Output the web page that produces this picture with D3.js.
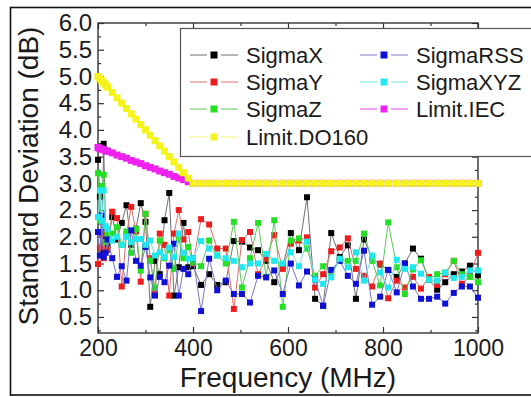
<!DOCTYPE html>
<html>
<head>
<meta charset="utf-8">
<script src="https://cdn.jsdelivr.net/npm/d3@7"></script>
<style>
  html, body { margin: 0; padding: 0; background: #fff; }
  svg { display: block; font-family: "Liberation Sans", Arial, sans-serif; }
</style>
</head>
<body>
<svg id="chart" width="531" height="397"></svg>
<script>
// Measurement frequencies (MHz)
const frequencies = [
  200, 204, 208, 212, 216, 220,
  230, 240, 250, 260, 270, 280, 290, 300, 310, 320, 330, 340, 350, 360, 370, 380, 390,
  400, 417, 434, 451, 469, 486, 503, 520, 537, 554, 571, 589, 606, 623, 640, 657, 674,
  691, 709, 726, 743, 760, 777, 794, 811, 829, 846, 863, 880, 897, 914, 931, 949, 966, 983, 1000
];

// Standard deviation of the field (dB)
const sigmaX = [
  3.44, 2.75, 1.75, 3.74, 2.00, 1.85,
  2.37, 1.95, 2.26, 2.59, 1.85, 2.15, 2.63, 2.28, 0.69, 1.55, 1.30, 2.31, 2.82, 0.90, 1.43, 2.26, 1.43,
  1.45, 1.10, 1.30, 1.10, 1.15, 1.92, 1.91, 1.80, 1.75, 1.55, 1.15, 1.45, 2.07, 1.75, 2.74, 0.84, 0.71,
  2.07, 1.62, 1.84, 0.84, 1.95, 1.60, 1.48, 1.38, 1.25, 1.50, 1.78, 1.59, 1.20, 1.01, 1.15, 1.30, 1.35, 1.46, 1.28
];
const sigmaY = [
  1.49, 1.80, 2.05, 1.60, 2.10, 1.75,
  2.47, 2.35, 1.07, 2.05, 2.56, 2.10, 1.16, 2.43, 1.60, 0.94, 2.06, 1.85, 0.90, 2.06, 2.50, 1.95, 2.09,
  1.50, 2.33, 2.23, 1.78, 1.78, 0.65, 1.94, 2.09, 1.30, 1.59, 2.03, 1.40, 1.87, 1.93, 1.99, 1.05, 1.30,
  1.73, 1.80, 1.97, 1.40, 1.27, 1.07, 1.50, 0.85, 1.18, 1.05, 1.25, 1.03, 1.25, 1.10, 1.30, 1.55, 1.12, 1.27, 1.70
];
const sigmaZ = [
  3.19, 2.30, 2.95, 3.16, 1.90, 2.05,
  2.06, 2.18, 1.85, 2.10, 1.70, 2.15, 1.37, 2.43, 1.55, 1.05, 1.93, 1.60, 1.75, 1.40, 1.96, 1.60, 1.81,
  1.52, 1.45, 1.93, 1.65, 1.50, 2.28, 1.05, 1.60, 2.26, 1.25, 2.31, 0.69, 1.93, 1.97, 1.78, 1.27, 1.45,
  1.33, 1.56, 1.55, 1.55, 2.06, 1.55, 1.09, 2.27, 1.43, 0.93, 1.39, 1.56, 1.20, 1.30, 1.33, 1.55, 1.30, 1.25, 1.15
];
const sigmaRSS = [
  2.09, 1.65, 2.40, 1.62, 1.70, 1.95,
  1.60, 1.25, 1.45, 1.18, 2.12, 1.55, 1.46, 1.81, 1.24, 0.90, 1.25, 1.15, 1.46, 1.87, 0.90, 1.40, 1.30,
  1.60, 0.61, 1.59, 1.00, 1.18, 0.93, 0.93, 0.77, 1.27, 1.24, 1.37, 0.93, 1.50, 1.09, 1.35, 1.20, 0.71,
  1.38, 1.55, 1.27, 1.12, 1.74, 0.73, 0.88, 1.38, 0.96, 1.50, 1.07, 0.84, 0.84, 0.88, 0.75, 0.95, 1.07, 1.07, 0.86
];
const sigmaXYZ = [
  2.37, 2.87, 2.30, 2.87, 2.20, 2.15,
  1.93, 2.00, 1.85, 2.00, 1.90, 1.96, 1.96, 1.85, 1.93, 1.65, 1.71, 1.62, 1.80, 1.62, 2.06, 1.70, 1.59,
  1.60, 1.92, 1.78, 1.65, 1.60, 1.55, 1.43, 1.50, 1.50, 1.68, 1.55, 1.50, 1.71, 1.45, 1.91, 1.20, 1.12,
  1.24, 1.59, 1.43, 1.71, 1.18, 1.65, 1.33, 1.05, 1.57, 1.40, 1.43, 1.31, 1.20, 1.18, 1.33, 1.23, 1.25, 1.37, 1.37
];
// Acceptance limits (dB)
const limitIEC = [
  3.67, 3.65, 3.64, 3.63, 3.61, 3.60,
  3.57, 3.53, 3.50, 3.47, 3.43, 3.40, 3.37, 3.33, 3.30, 3.27, 3.23, 3.20, 3.17, 3.13, 3.10, 3.07, 3.03,
  3.00, 3.00, 3.00, 3.00, 3.00, 3.00, 3.00, 3.00, 3.00, 3.00, 3.00, 3.00, 3.00, 3.00, 3.00, 3.00, 3.00,
  3.00, 3.00, 3.00, 3.00, 3.00, 3.00, 3.00, 3.00, 3.00, 3.00, 3.00, 3.00, 3.00, 3.00, 3.00, 3.00, 3.00, 3.00, 3.00
];
const limitDO160 = [
  5.00, 4.96, 4.92, 4.88, 4.84, 4.80,
  4.70, 4.60, 4.50, 4.40, 4.30, 4.20, 4.10, 4.00, 3.90, 3.80, 3.70, 3.60, 3.50, 3.40, 3.30, 3.20, 3.10,
  3.00, 3.00, 3.00, 3.00, 3.00, 3.00, 3.00, 3.00, 3.00, 3.00, 3.00, 3.00, 3.00, 3.00, 3.00, 3.00, 3.00,
  3.00, 3.00, 3.00, 3.00, 3.00, 3.00, 3.00, 3.00, 3.00, 3.00, 3.00, 3.00, 3.00, 3.00, 3.00, 3.00, 3.00, 3.00, 3.00
];

const seriesNames = ["SigmaX", "SigmaY", "SigmaZ", "SigmaRSS", "SigmaXYZ", "Limit.IEC", "Limit.DO160"];
const seriesValues = [sigmaX, sigmaY, sigmaZ, sigmaRSS, sigmaXYZ, limitIEC, limitDO160];

const xTickValues = [200, 400, 600, 800, 1000];
const xMinorTicks = [300, 500, 700, 900];
const yTickValues = [0.5, 1.0, 1.5, 2.0, 2.5, 3.0, 3.5, 4.0, 4.5, 5.0, 5.5, 6.0];
const yMinorTicks = [0.25, 0.75, 1.25, 1.75, 2.25, 2.75, 3.25, 3.75, 4.25, 4.75, 5.25, 5.75];

const xTitle = "Frequency (MHz)";
const yTitle = "Standard Deviation (dB)";

// Visual styles per series: marker fill, connecting line colour, marker size, line width
const styles = [
  { marker: "#000000", line: "#707070", size: 6, width: 1 },
  { marker: "#ee1c1c", line: "#e07070", size: 6, width: 1 },
  { marker: "#22e022", line: "#5cc85c", size: 6, width: 1 },
  { marker: "#1010d8", line: "#7878c8", size: 6, width: 1 },
  { marker: "#20e8f0", line: "#70e0e8", size: 6, width: 1 },
  { marker: "#ee22ee", line: "#e83ee8", size: 7, width: 4 },
  { marker: "#f4f41c", line: "#f4f470", size: 7, width: 3.5 }
];

const svg = d3.select("#chart");
const plot = { left: 98, right: 478, top: 23, bottom: 333 };

const x = d3.scaleLinear().domain([200, 1000]).range([plot.left, plot.right]);
const y = d3.scaleLinear().domain([0.2, 6.0]).range([plot.bottom, plot.top]);

// Outer frame around the figure
svg.append("rect")
  .attr("x", 10.5).attr("y", 7.5)
  .attr("width", 530).attr("height", 387.5)
  .attr("fill", "none").attr("stroke", "#111").attr("stroke-width", 1.6);

// Axes with inward ticks on all four sides
function styleAxis(g) {
  g.select(".domain").remove();
  g.selectAll(".tick line").attr("stroke", "#333").attr("stroke-width", 1.2);
  g.selectAll(".tick text").attr("fill", "#1a1a1a").attr("font-size", 23);
}

const fmtY = d3.format(".1f");

svg.append("g").attr("transform", `translate(${plot.left},0)`)
  .call(d3.axisLeft(y).tickValues(yTickValues).tickSize(-6).tickPadding(6).tickFormat(fmtY))
  .call(styleAxis)
  .call(g => g.selectAll(".tick text").attr("font-size", 24));
svg.append("g").attr("transform", `translate(${plot.left},0)`)
  .call(d3.axisLeft(y).tickValues(yMinorTicks).tickSize(-3).tickFormat(""))
  .call(styleAxis);
svg.append("g").attr("transform", `translate(${plot.right},0)`)
  .call(d3.axisRight(y).tickValues(yTickValues).tickSize(-6).tickFormat(""))
  .call(styleAxis);
svg.append("g").attr("transform", `translate(${plot.right},0)`)
  .call(d3.axisRight(y).tickValues(yMinorTicks).tickSize(-3).tickFormat(""))
  .call(styleAxis);

svg.append("g").attr("transform", `translate(0,${plot.bottom})`)
  .call(d3.axisBottom(x).tickValues(xTickValues).tickSize(-6).tickPadding(7).tickFormat(d3.format("d")))
  .call(styleAxis)
  .call(g => g.selectAll(".tick text").attr("dy", "0.71em"));
svg.append("g").attr("transform", `translate(0,${plot.bottom})`)
  .call(d3.axisBottom(x).tickValues(xMinorTicks).tickSize(-3).tickFormat(""))
  .call(styleAxis);
svg.append("g").attr("transform", `translate(0,${plot.top})`)
  .call(d3.axisTop(x).tickValues(xTickValues).tickSize(-6).tickFormat(""))
  .call(styleAxis);
svg.append("g").attr("transform", `translate(0,${plot.top})`)
  .call(d3.axisTop(x).tickValues(xMinorTicks).tickSize(-3).tickFormat(""))
  .call(styleAxis);

// Plot frame
svg.append("rect")
  .attr("x", plot.left).attr("y", plot.top)
  .attr("width", plot.right - plot.left).attr("height", plot.bottom - plot.top)
  .attr("fill", "none").attr("stroke", "#333").attr("stroke-width", 1.4);

// Series: thin connecting lines, square markers
const line = d3.line().x(d => x(d.f)).y(d => y(d.v));
const series = seriesValues.map((vals, i) => ({
  name: seriesNames[i],
  style: styles[i],
  points: frequencies.map((f, j) => ({ f, v: vals[j] }))
}));

const seriesG = svg.append("g");
series.forEach(s => {
  const g = seriesG.append("g");
  g.append("path")
    .attr("d", line(s.points))
    .attr("fill", "none")
    .attr("stroke", s.style.line)
    .attr("stroke-width", s.style.width)
    .attr("stroke-linejoin", "round");
  g.selectAll("rect").data(s.points).join("rect")
    .attr("x", d => x(d.f) - s.style.size / 2)
    .attr("y", d => y(d.v) - s.style.size / 2)
    .attr("width", s.style.size)
    .attr("height", s.style.size)
    .attr("fill", s.style.marker);
});

// Axis titles
svg.append("text")
  .attr("x", (plot.left + plot.right) / 2)
  .attr("y", 387)
  .attr("text-anchor", "middle")
  .attr("font-size", 28)
  .attr("fill", "#1a1a1a")
  .text(xTitle);

svg.append("text")
  .attr("transform", `translate(38,${(plot.top + plot.bottom) / 2 - 2}) rotate(-90)`)
  .attr("text-anchor", "middle")
  .attr("font-size", 28)
  .attr("fill", "#1a1a1a")
  .text(yTitle);

// Legend
const legend = svg.append("g");
legend.append("rect")
  .attr("x", 180.5).attr("y", 28.5)
  .attr("width", 370).attr("height", 128)
  .attr("fill", "#fff").attr("stroke", "#555").attr("stroke-width", 1.2);

const legendCols = [190, 360];
const legendRows = [55, 82, 109, 137];
const legendLayout = [[0, 0], [0, 1], [0, 2], [1, 0], [1, 1], [1, 2], [0, 3]];
series.forEach((s, i) => {
  const [c, r] = legendLayout[i];
  const lx = legendCols[c], ly = legendRows[r];
  const item = legend.append("g").attr("transform", `translate(${lx},${ly})`);
  item.append("line").attr("x1", 0).attr("x2", 17).attr("y1", 0).attr("y2", 0)
    .attr("stroke", s.style.line).attr("stroke-width", 1);
  item.append("line").attr("x1", 31).attr("x2", 48).attr("y1", 0).attr("y2", 0)
    .attr("stroke", s.style.line).attr("stroke-width", 1);
  item.append("rect").attr("x", 20.5).attr("y", -3.5).attr("width", 7).attr("height", 7)
    .attr("fill", s.style.marker);
  item.append("text").attr("x", 56).attr("y", 0).attr("dy", "0.36em")
    .attr("font-size", 22).attr("fill", "#1a1a1a")
    .text(s.name);
});
</script>
</body>
</html>
